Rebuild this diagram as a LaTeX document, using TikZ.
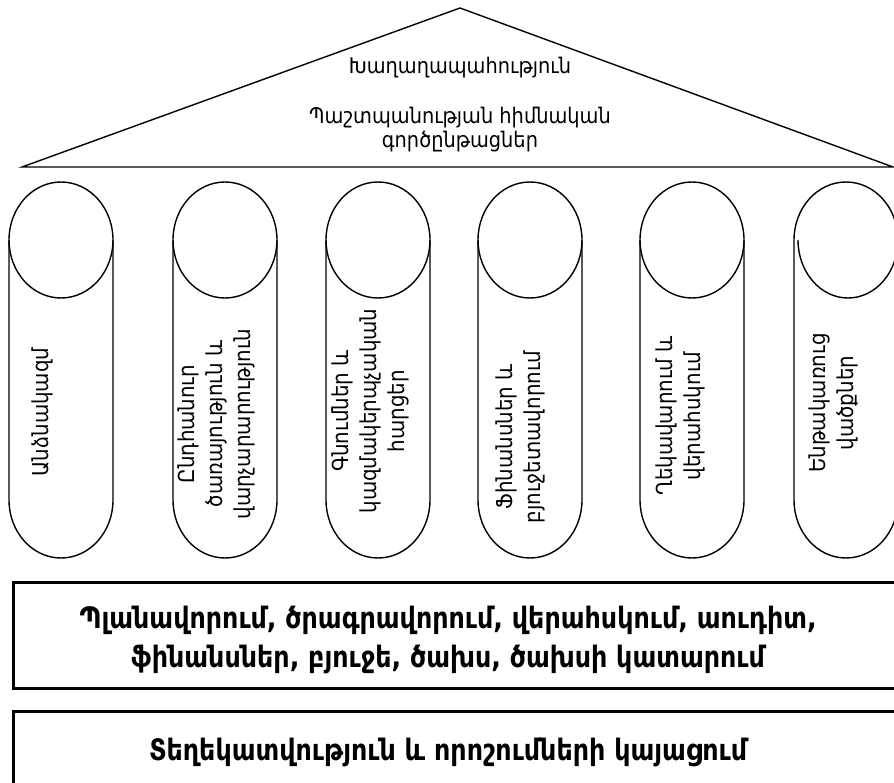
\documentclass[tikz,border=0pt]{standalone}
\usepackage{fontspec}
\setmainfont{DejaVu Sans}
\newfontfamily\narrowfont[FakeStretch=0.9]{DejaVu Sans}
\newfontfamily\boxfont[FakeStretch=0.86]{DejaVu Sans}

\tikzset{
  outline/.style={draw=black, line width=1.4pt},
  frame/.style={draw=black, line width=2.6pt},
  rooftext/.style={font=\narrowfont\fontsize{21.5}{24}\selectfont, align=center, inner sep=0pt},
  pillartext/.style={font=\narrowfont\fontsize{22}{28}\selectfont, align=center, inner sep=0pt, rotate=90},
  boxtext/.style={font=\boxfont\bfseries\fontsize{29.5}{39}\selectfont, align=center, inner sep=0pt}
}

% one column: a can shape, x0..x1 wide, cap radius 58
\newcommand{\column}[2]{%
  \pgfmathsetmacro{\rx}{(#2-#1)/2}
  \draw[outline] (#1,240) arc[start angle=180, end angle=360, x radius=\rx, y radius=58]
    -- (#2,500) arc[start angle=0, end angle=180, x radius=\rx, y radius=58] -- cycle;
  \draw[outline] (#1,240) arc[start angle=180, end angle=0, x radius=\rx, y radius=58];
}

\begin{document}
\begin{tikzpicture}[x=1pt, y=-1pt]
\useasboundingbox (0,0) rectangle (894,783);
\clip (0,0) rectangle (894,783);

% roof
\coordinate (apex) at (460,8);
\coordinate (eaveL) at (22,167);
\coordinate (eaveR) at (893,167);
\draw[outline, line join=miter] (eaveL) -- (apex) -- (eaveR) -- cycle;
\node[rooftext] (peace) at (460,68) {Խաղաղապահություն};
\node[rooftext] (core) at (460,130) {Պաշտպանության հիմնական\\գործընթացներ};

% columns
\column{9}{113}
\column{173}{277}
\column{326}{430}
\column{478}{582}
\column{640}{744}
% last column, its inner arc set slightly in
\draw[outline] (794,240) arc[start angle=180, end angle=360, x radius=52, y radius=58]
  -- (898,500) arc[start angle=0, end angle=180, x radius=52, y radius=58] -- cycle;
\draw[outline] (798,240) arc[start angle=180, end angle=0, x radius=50, y radius=58];

\node[pillartext] (staff) at (42,412) {Անձնակազմ};
\node[pillartext] (service) at (216,424) {Ընդհանուր\\ծառայություն և\\վարչարարություն};
\node[pillartext] (purchase) at (370,411) {Գնումներ և\\կազմակերպչական\\հարցեր};
\node[pillartext] (finance) at (520,437) {Ֆինանսներ և\\բյուջետավորում};
\node[pillartext] (lead) at (680,416) {Ղեկավարում և\\վերահսկում};
\node[pillartext] (infra) at (833,403) {Ենթակառուց\\վածքներ};

% base layers
\node[frame, minimum width=888pt, minimum height=106pt, anchor=north west, inner sep=0pt] (planbox) at (12,581) {};
\node[frame, minimum width=888pt, minimum height=100pt, anchor=north west, inner sep=0pt] (infobox) at (12,710) {};
\node[boxtext] (plan) at (448,640) {Պլանավորում, ծրագրավորում, վերահսկում, աուդիտ,\\ֆինանսներ, բյուջե, ծախս, ծախսի կատարում};
\node[boxtext] (info) at (448,752) {Տեղեկատվություն և որոշումների կայացում};
\end{tikzpicture}
\end{document}
